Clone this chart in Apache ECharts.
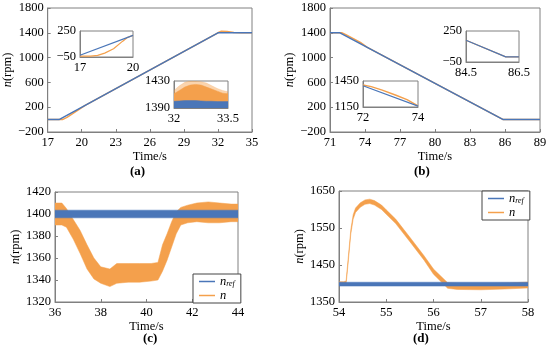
<!DOCTYPE html>
<html><head><meta charset="utf-8">
<script src="https://cdn.jsdelivr.net/npm/echarts@6/dist/echarts.min.js"></script>
<style>html,body{margin:0;padding:0;background:#fff}#c{width:550px;height:351px}</style>
</head><body><div id="c"></div>
<script>
// ---------- DATA ----------
// (a) main
const aRef = [[17,0],[18.0,0],[32.0,1400],[35,1400]];
const aN = [[17,0],[18.3,0],[18.7,35],[19.2,95],[19.8,170],[20.3,230],[32.0,1400],[32.3,1425],[32.8,1420],[33.4,1404],[34,1400],[35,1400]];
// (a) inset 1 (17..20)
const a1Ref = [[17,-30],[20,200]];
const a1N = [[17,-40],[17.6,-40],[18.0,-32],[18.4,-5],[18.9,45],[19.4,130],[19.7,177],[20,200]];
// (a) inset 2 (32..33.5) bands
const a2T = [32, 32.15, 32.3, 32.45, 32.6, 32.75, 32.9, 33.05, 33.2, 33.35, 33.5];
const a2NLower = [1396,1396,1396,1396,1396,1396,1396,1396,1396,1396,1396];
const a2NUpper = [1411,1416,1421,1424,1425,1424,1421,1418,1415,1412,1411];
const a2NSpike = [1416,1423,1428,1430,1430,1429,1427,1423,1419,1416,1414];
const a2RefLower = [1390,1390,1390,1390,1390,1390,1390,1390,1390,1390,1390];
const a2RefUpper = [1400,1400.5,1401,1401,1401,1400.5,1400,1400,1399.5,1399.5,1399.5];
// (b) main
const bRef = [[71,1400],[71.85,1400],[85.85,0],[89,0]];
const bN = [[71,1400],[72.0,1400],[72.4,1365],[73,1306],[73.6,1244],[74.2,1165],[85.85,0],[89,0]];
// (b) inset lower-left (72..74)
const b1Ref = [[72,1395],[74,1160]];
const b1N = [[72,1405],[72.3,1385],[72.7,1345],[73.2,1285],[73.6,1235],[74,1162]];
// (b) inset upper-right (84.5..86.5)
const b2Ref = [[84.5,160],[86.0,0],[86.5,0]];
const b2N = [[84.5,160],[86.0,0],[86.5,0]];
// (c)
const cT = [36,36.3,36.5,36.8,37.1,37.4,37.7,38.0,38.4,38.7,39.2,39.7,40.2,40.5,40.7,40.9,41.1,41.3,41.5,41.8,42.2,42.7,43.2,43.7,44];
const cNUpper = [1410,1410,1405,1395,1385,1372,1360,1352,1350,1355,1355,1355,1355,1356,1372,1382,1393,1402,1406,1408,1410,1411,1410,1409,1409];
const cNLower = [1390,1390,1388,1377,1364,1350,1341,1337,1334,1337,1338,1338,1339,1340,1348,1358,1370,1382,1390,1392,1393,1392,1392,1393,1393];
const cRefT = [36,44];
const cRefUpper = [1403.5,1403.5];
const cRefLower = [1396.5,1396.5];
// (d)
const dT = [54,54.1,54.15,54.2,54.25,54.3,54.35,54.45,54.55,54.65,54.75,54.9,55.0,55.2,55.5,55.8,56.0,56.3,56.5,57.0,57.5,58];
const dNUpper = [1405,1405,1407,1476,1546,1586,1604,1618,1626,1628,1624,1612,1599,1574,1525,1475,1439,1402,1400,1399,1401,1404];
const dNLower = [1395,1395,1397,1464,1534,1574,1592,1606,1614,1616,1612,1600,1587,1562,1513,1463,1425,1387,1384,1383,1385,1388];
const dRefT = [54,58];
const dRefUpper = [1403.5,1403.5];
const dRefLower = [1393,1393];

// ---------- STYLE ----------
const BLUE = '#4A76B8', ORANGE = '#F4A04C', GRAY = '#808080';
const FONT = '"Liberation Serif","Times New Roman",serif';
const FS = 12.5;
const minus = v => (v < 0 ? '\u2212' + (-v) : String(v));

function xAx(gi, min, max, ticks, opt) {
  return Object.assign({
    gridIndex: gi, type: 'value', min, max,
    axisLine: {onZero: false, lineStyle: {color: GRAY, width: 1}},
    axisTick: {inside: true, length: 3, customValues: ticks, lineStyle: {color: GRAY}},
    axisLabel: {customValues: ticks, formatter: minus, color: '#000', fontFamily: FONT, fontSize: FS, margin: 4},
    splitLine: {show: false}
  }, opt || {});
}
function yAx(gi, min, max, ticks, opt) {
  return Object.assign({
    gridIndex: gi, type: 'value', min, max,
    axisLine: {onZero: false, lineStyle: {color: GRAY, width: 1}},
    axisTick: {inside: true, length: 3, customValues: ticks, lineStyle: {color: GRAY}},
    axisLabel: {customValues: ticks, formatter: minus, color: '#000', fontFamily: FONT, fontSize: FS, margin: 4},
    splitLine: {show: false}
  }, opt || {});
}
const timeName = gap => ({name: 'Time/s', nameLocation: 'middle', nameGap: gap,
  nameTextStyle: {color: '#000', fontFamily: FONT, fontSize: FS}});
const rpmName = gap => ({name: '{i|n}(rpm)', nameLocation: 'middle', nameGap: gap, nameRotate: 90,
  nameTextStyle: {color: '#000', fontFamily: FONT, fontSize: FS, rich: {i: {fontStyle: 'italic', fontFamily: FONT, fontSize: FS, color: '#000'}}}});
const inset = {axisTick: {show: false}};

function line(name, xi, data, color, w, z) {
  return {name, type: 'line', xAxisIndex: xi, yAxisIndex: xi, data, symbol: 'none', silent: true,
    lineStyle: {color, width: w}, itemStyle: {color}, z: z || 2, animation: false};
}
// filled band between a lower and an upper envelope, positioned through the axes (api.coord)
function band(name, xi, t, lo, hi, color, z, op) {
  return {name, type: 'custom', xAxisIndex: xi, yAxisIndex: xi, z, silent: true, clip: true, animation: false,
    data: t.map((x, i) => [x, lo[i], hi[i]]),
    encode: {x: 0, y: [1, 2]},
    itemStyle: {color},
    renderItem: (params, api) => {
      if (params.dataIndex !== 0) return null;
      const pts = [];
      for (let i = 0; i < t.length; i++) pts.push(api.coord([t[i], hi[i]]));
      for (let i = t.length - 1; i >= 0; i--) pts.push(api.coord([t[i], lo[i]]));
      return {type: 'polygon', shape: {points: pts},
        style: {fill: color, stroke: color, lineWidth: 0.5, opacity: op == null ? 1 : op}};
    }};
}

const grids = [
  {left: 46, top: 8, width: 206, height: 124},
  {left: 330, top: 8, width: 210, height: 124},
  {left: 55, top: 192, width: 183, height: 110},
  {left: 339, top: 191, width: 189, height: 111},
  {left: 80, top: 31, width: 53, height: 26},
  {left: 174, top: 81, width: 54, height: 27},
  {left: 363, top: 81, width: 55, height: 26},
  {left: 466, top: 31, width: 53, height: 31}
].map((g, i) => Object.assign({show: true, borderColor: GRAY, borderWidth: 1,
  backgroundColor: i >= 4 ? '#fff' : 'transparent', z: i >= 4 ? 5 : 0}, g));

const xAxes = [
  xAx(0, 17, 35, [17,20,23,26,29,32,35], timeName(13)),
  xAx(1, 71, 89, [71,74,77,80,83,86,89], timeName(13)),
  xAx(2, 36, 44, [36,38,40,42,44], timeName(12)),
  xAx(3, 54, 58, [54,55,56,57,58], timeName(12)),
  xAx(4, 17, 20, [17,20], inset),
  xAx(5, 32, 33.5, [32,33.5], inset),
  xAx(6, 72, 74, [72,74], inset),
  xAx(7, 84.5, 86.5, [84.5,86.5], inset)
];
const yAxes = [
  yAx(0, -200, 1800, [-200,200,600,1000,1400,1800], rpmName(29)),
  yAx(1, -200, 1800, [-200,200,600,1000,1400,1800], rpmName(29)),
  yAx(2, 1320, 1420, [1320,1340,1360,1380,1400,1420], rpmName(30)),
  yAx(3, 1350, 1650, [1350,1450,1550,1650], rpmName(30)),
  yAx(4, -50, 250, [-50,250], inset),
  yAx(5, 1390, 1430, [1390,1430], inset),
  yAx(6, 1150, 1450, [1150,1450], inset),
  yAx(7, -50, 250, [-50,250], inset)
];
xAxes.forEach((a, i) => { if (i >= 4) a.z = 6; });
yAxes.forEach((a, i) => { if (i >= 4) a.z = 6; });

const series = [
  line('n', 0, aN, ORANGE, 1.5, 2), line('n_ref', 0, aRef, BLUE, 1.5, 3),
  line('n', 1, bN, ORANGE, 1.5, 2), line('n_ref', 1, bRef, BLUE, 1.5, 3),
  band('n', 2, cT, cNLower, cNUpper, ORANGE, 2),
  band('n_ref', 2, cRefT, cRefLower, cRefUpper, BLUE, 3),
  band('n', 3, dT, dNLower, dNUpper, ORANGE, 2),
  band('n_ref', 3, dRefT, dRefLower, dRefUpper, BLUE, 3),
  line('n', 4, a1N, ORANGE, 1.2, 7), line('n_ref', 4, a1Ref, BLUE, 1.2, 8),
  band('n', 5, a2T, a2NLower, a2NSpike, ORANGE, 7, 0.45),
  band('n', 5, a2T, a2NLower, a2NUpper, ORANGE, 7),
  band('n_ref', 5, a2T, a2RefLower, a2RefUpper, BLUE, 8),
  line('n', 6, b1N, ORANGE, 1.5, 7), line('n_ref', 6, b1Ref, BLUE, 1.2, 8),
  line('n', 7, b2N, ORANGE, 1.2, 7), line('n_ref', 7, b2Ref, BLUE, 1.2, 8)
];

const legendBase = {
  orient: 'vertical', icon: 'rect', itemWidth: 16, itemHeight: 1.5, itemGap: 1,
  backgroundColor: '#fff', borderColor: '#444', borderWidth: 1, padding: [1, 6, 1, 6],
  selectedMode: false, z: 10,
  data: [{name: 'n_ref', itemStyle: {color: BLUE}}, {name: 'n', itemStyle: {color: ORANGE}}],
  formatter: name => name === 'n_ref' ? '{i|n}{s|ref}' : '{i|n}',
  textStyle: {color: '#000', fontFamily: FONT, fontSize: FS,
    rich: {i: {fontStyle: 'italic', fontFamily: FONT, fontSize: FS}, s: {fontStyle: 'italic', fontFamily: FONT, fontSize: 8, padding: [5, 0, 0, 0]}}}
};

const panelLabel = (txt, x, y) => ({type: 'text', left: x, top: y,
  style: {text: txt, font: 'bold 13px ' + FONT, fill: '#000', textAlign: 'center'}});

const option = {
  animation: false,
  grid: grids, xAxis: xAxes, yAxis: yAxes, series,
  legend: [
    Object.assign({left: 193, top: 274}, legendBase),
    Object.assign({left: 482, top: 191}, legendBase)
  ],
  graphic: [
    panelLabel('(a)', 130, 165), panelLabel('(b)', 414, 165),
    panelLabel('(c)', 143, 332), panelLabel('(d)', 413, 332)
  ]
};
const chart = echarts.init(document.getElementById('c'), null, {renderer: 'canvas'});
chart.setOption(option);
</script></body></html>
